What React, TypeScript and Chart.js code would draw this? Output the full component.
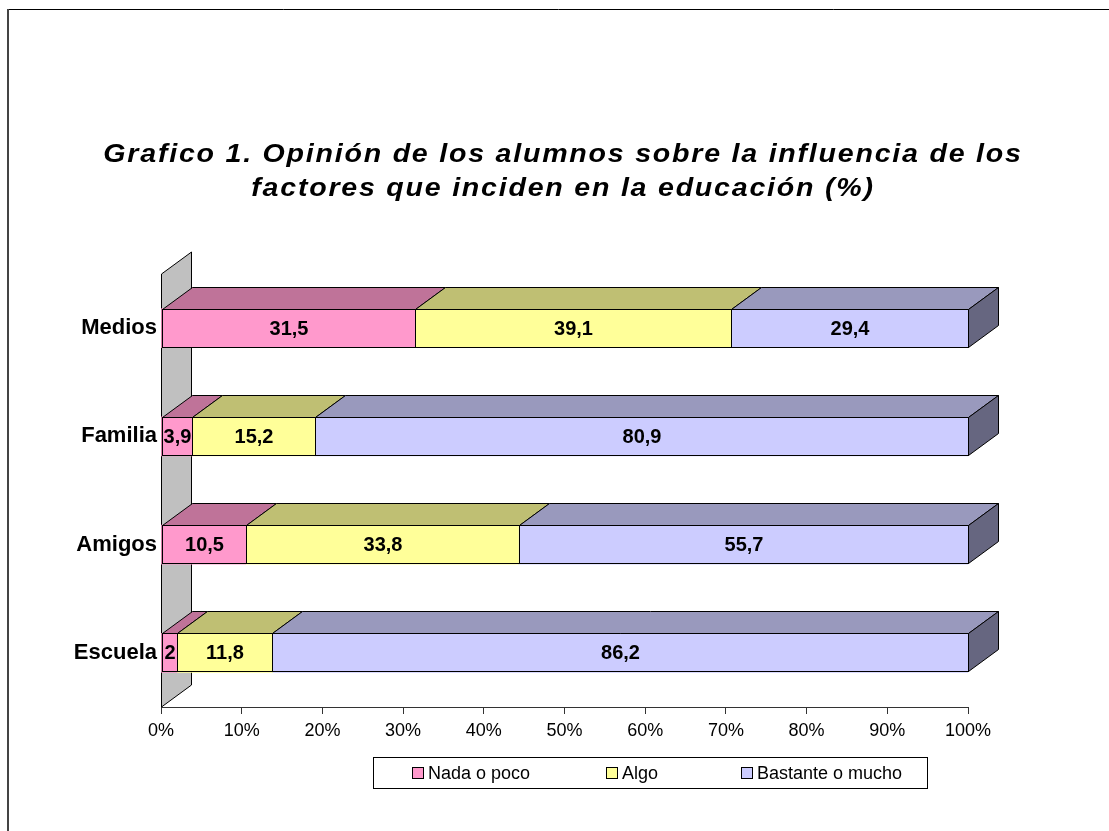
import { useEffect, useRef } from 'react';
import { Chart, registerables } from 'chart.js';

Chart.register(...registerables);

// ---- data ----
const categories = ['Medios', 'Familia', 'Amigos', 'Escuela'];
const seriesNames = ['Nada o poco', 'Algo', 'Bastante o mucho'];
const nadaOPoco = [31.5, 3.9, 10.5, 2];
const algo = [39.1, 15.2, 33.8, 11.8];
const bastanteOMucho = [29.4, 80.9, 55.7, 86.2];
const xTickValues = [0, 10, 20, 30, 40, 50, 60, 70, 80, 90, 100];
const titleLines = [
  'Grafico 1. Opinión de los alumnos sobre la influencia de los',
  'factores que inciden en la educación (%)',
];

// ---- styles ----
const FONT = '"Liberation Sans", Arial, Helvetica, sans-serif';
const frontColors = ['#FF99CC', '#FFFF99', '#CCCCFF'];
const topColors = ['#BF7399', '#BFBF73', '#9999BD'];
const sideColors = ['#994D73', '#99994D', '#666680'];
const DX = 30;
const DY = 22;
const TITLE_STRETCH = 1.1;

const fmt = (v: number) => String(v).replace('.', ',');

const frame = {
  id: 'frame',
  beforeDraw(chart: any) {
    const ctx = chart.ctx;
    ctx.save();
    ctx.fillStyle = '#fff';
    ctx.fillRect(0, 0, chart.width, chart.height);
    ctx.strokeStyle = '#000';
    ctx.lineWidth = 1;
    ctx.beginPath();
    ctx.moveTo(8, 9.5);
    ctx.lineTo(chart.width, 9.5);
    ctx.stroke();
    ctx.strokeStyle = '#444';
    ctx.lineWidth = 2;
    ctx.beginPath();
    ctx.moveTo(8, 9);
    ctx.lineTo(8, chart.height);
    ctx.stroke();
    // title (slightly stretched and spaced like the original)
    ctx.fillStyle = '#000';
    ctx.font = `italic bold 26px ${FONT}`;
    (ctx as any).letterSpacing = '1.6px';
    ctx.textAlign = 'center';
    ctx.textBaseline = 'alphabetic';
    ctx.translate(563, 0);
    ctx.scale(TITLE_STRETCH, 1);
    ctx.fillText(titleLines[0], 0, 162);
    ctx.fillText(titleLines[1], 0, 196);
    (ctx as any).letterSpacing = '0px';
    ctx.restore();
  },
};

const threeD = {
  id: 'threeD',
  beforeDatasetsDraw(chart: any) {
    const { ctx, chartArea: a } = chart;
    const l = Math.round(a.left) + 0.5;
    const t = Math.round(a.top);
    const b = Math.round(a.bottom);
    ctx.save();
    ctx.beginPath();
    ctx.moveTo(l, b);
    ctx.lineTo(l, t);
    ctx.lineTo(l + DX, t - DY);
    ctx.lineTo(l + DX, b - DY);
    ctx.closePath();
    ctx.fillStyle = '#C0C0C0';
    ctx.fill();
    ctx.strokeStyle = '#000';
    ctx.lineWidth = 1;
    ctx.stroke();
    ctx.restore();
  },
  afterDatasetsDraw(chart: any) {
    const ctx = chart.ctx;
    const n = chart.data.datasets.length;
    ctx.save();
    ctx.lineWidth = 1;
    ctx.strokeStyle = '#000';
    ctx.lineJoin = 'miter';
    chart.data.datasets.forEach((ds: any, di: number) => {
      const meta = chart.getDatasetMeta(di);
      meta.data.forEach((bar: any, i: number) => {
        const p = bar.getProps(['x', 'y', 'base', 'height'], true);
        const x0 = Math.round(Math.min(p.x, p.base)) + 0.5;
        const x1 = Math.round(Math.max(p.x, p.base)) + 0.5;
        const yt = Math.round(p.y - p.height / 2) + 0.5;
        const yb = Math.round(p.y + p.height / 2) - 0.5;
        // front outline
        ctx.strokeRect(x0, yt, x1 - x0, yb - yt);
        // top face
        ctx.beginPath();
        ctx.moveTo(x0, yt);
        ctx.lineTo(x0 + DX, yt - DY);
        ctx.lineTo(x1 + DX, yt - DY);
        ctx.lineTo(x1, yt);
        ctx.closePath();
        ctx.fillStyle = topColors[di];
        ctx.fill();
        ctx.stroke();
        if (di === n - 1) {
          ctx.beginPath();
          ctx.moveTo(x1, yt);
          ctx.lineTo(x1 + DX, yt - DY);
          ctx.lineTo(x1 + DX, yb - DY);
          ctx.lineTo(x1, yb);
          ctx.closePath();
          ctx.fillStyle = sideColors[di];
          ctx.fill();
          ctx.stroke();
        }
        // label
        const v = ds.data[i];
        ctx.fillStyle = '#000';
        ctx.font = `bold 20px ${FONT}`;
        ctx.textAlign = 'center';
        ctx.textBaseline = 'middle';
        ctx.fillText(fmt(v), (x0 + x1) / 2, p.y + 1);
      });
    });
    ctx.restore();
  },
};

const legendBox = {
  id: 'legendBox',
  afterDraw(chart: any) {
    const ctx = chart.ctx;
    const xs = [412, 606, 741];
    ctx.save();
    ctx.strokeStyle = '#000';
    ctx.lineWidth = 1;
    ctx.strokeRect(373.5, 757.5, 554, 31);
    ctx.font = `18px ${FONT}`;
    ctx.textAlign = 'left';
    ctx.textBaseline = 'middle';
    chart.data.datasets.forEach((ds: any, di: number) => {
      const x = xs[di];
      ctx.fillStyle = ds.backgroundColor;
      ctx.fillRect(x + 0.5, 767.5, 11, 11);
      ctx.strokeRect(x + 0.5, 767.5, 11, 11);
      ctx.fillStyle = '#000';
      ctx.fillText(ds.label, x + 16, 774);
    });
    ctx.restore();
  },
};

export default function App() {
  const ref = useRef<HTMLCanvasElement>(null);
  useEffect(() => {
    if (!ref.current) return;
    const seriesValues = [nadaOPoco, algo, bastanteOMucho];
    const chart = new Chart(ref.current, {
      type: 'bar',
      data: {
        labels: categories,
        datasets: seriesNames.map((name, i) => ({
          label: name,
          data: seriesValues[i],
          backgroundColor: frontColors[i],
          borderWidth: 0,
          barThickness: 39,
        })),
      },
      options: {
        indexAxis: 'y',
        responsive: false,
        animation: false,
        events: [],
        layout: { padding: { top: 274, right: 141, left: 0, bottom: 0 } },
        plugins: {
          legend: { display: false },
          title: { display: false },
          tooltip: { enabled: false },
        },
        scales: {
          x: {
            stacked: true,
            min: 0,
            max: 100,
            afterBuildTicks: (scale: any) => {
              scale.ticks = xTickValues.map((v) => ({ value: v }));
            },
            afterFit: (scale: any) => {
              scale.height = 124;
            },
            ticks: {
              callback: (v: any) => v + '%',
              color: '#000',
              font: { family: FONT, size: 18 },
              padding: 6,
              maxRotation: 0,
              autoSkip: false,
            },
            grid: {
              display: true,
              drawOnChartArea: false,
              drawTicks: true,
              tickLength: 7,
              color: '#333',
            },
            border: { display: true, color: '#333', width: 1 },
          },
          y: {
            stacked: true,
            afterFit: (scale: any) => {
              scale.width = 161;
            },
            ticks: {
              color: '#000',
              font: { family: FONT, size: 22, weight: 'bold' },
              padding: 4,
            },
            grid: { display: false, drawTicks: false },
            border: { display: false },
          },
        },
      },
      plugins: [frame, threeD, legendBox],
    } as any);
    return () => chart.destroy();
  }, []);
  return (
    <div style={{ position: 'absolute', left: 0, top: 0, width: 1109, height: 831 }}>
      <canvas ref={ref} width={1109} height={831} />
    </div>
  );
}
